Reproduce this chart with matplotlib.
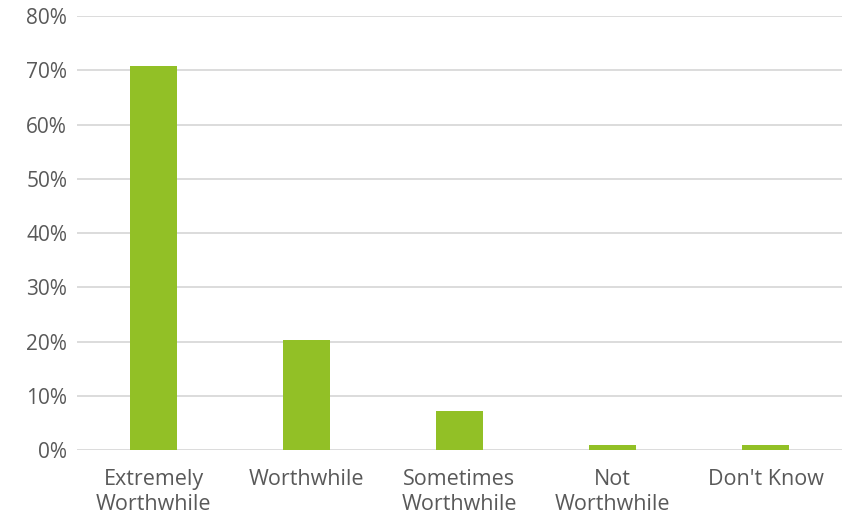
import matplotlib
matplotlib.use("Agg")
import matplotlib.pyplot as plt
from matplotlib.ticker import PercentFormatter

categories = ["Extremely\nWorthwhile", "Worthwhile", "Sometimes\nWorthwhile",
              "Not\nWorthwhile", "Don't Know"]
values = [70.8, 20.3, 7.1, 1.0, 1.0]
yticks = [0, 10, 20, 30, 40, 50, 60, 70, 80]

bar_color = "#92C026"
text_color = "#595959"
grid_color = "#D9D9D9"

plt.rcParams['font.family'] = ['Open Sans', 'DejaVu Sans']

fig = plt.figure(figsize=(8.43, 5.22), dpi=100)
ax = fig.add_axes([0.0913, 0.138, 0.9075, 0.831])

x = range(len(categories))
ax.bar(x, values, width=0.31, color=bar_color, zorder=3)

ax.set_ylim(0, 80)
ax.set_xlim(-0.5, len(categories) - 0.5)
ax.set_yticks(yticks)
ax.yaxis.set_major_formatter(PercentFormatter(decimals=0))
ax.set_xticks(list(x))
ax.set_xticklabels(categories, linespacing=1.2)

ax.grid(axis="y", color=grid_color, linewidth=1.3, zorder=0)
for s in ax.spines.values():
    s.set_visible(False)
ax.tick_params(axis="both", length=0, labelcolor=text_color)
ax.tick_params(axis="x", pad=14, labelsize=15.5)
ax.tick_params(axis="y", pad=7, labelsize=15)

fig.savefig("out.png", dpi=100)
